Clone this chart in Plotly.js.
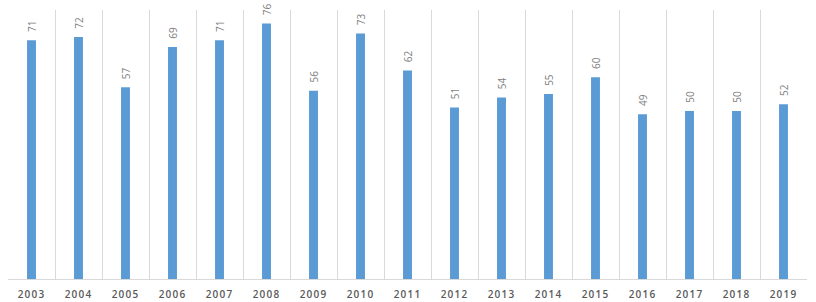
<!DOCTYPE html>
<html><head><meta charset="utf-8">
<script src="https://cdn.plot.ly/plotly-3.0.1.min.js"></script>
<style>html,body{margin:0;padding:0;background:#fff}
.xtick text{letter-spacing:1.2px}</style>
</head><body>
<div id="chart" style="width:816px;height:302px"></div>
<script>
const years = ["2003","2004","2005","2006","2007","2008","2009","2010","2011","2012","2013","2014","2015","2016","2017","2018","2019"];
const values = [71,72,57,69,71,76,56,73,62,51,54,55,60,49,50,50,52];

Plotly.newPlot('chart', [{
  type: 'bar',
  x: years,
  y: values,
  marker: {color: '#5B9BD5', line: {color: '#5B9BD5', width: 0}},
  text: values.map(v => '\u00a0\u00a0' + v),
  textposition: 'outside',
  textangle: -90,
  constraintext: 'none',
  textfont: {family: 'Open Sans, sans-serif', size: 10, color: '#7f7f7f'},
  cliponaxis: false,
  hoverinfo: 'skip'
}], {
  width: 816, height: 302,
  margin: {l: 8, r: 9, t: 10, b: 23},
  paper_bgcolor: '#fff', plot_bgcolor: '#fff',
  bargap: 0.81,
  showlegend: false,
  xaxis: {
    type: 'category',
    tickson: 'boundaries',
    showgrid: true, gridcolor: '#d9d9d9', gridwidth: 1,
    ticks: '', showline: true, linecolor: '#d9d9d9', mirror: false,
    ticklabelstandoff: 6,
    tickfont: {family: 'Open Sans, sans-serif', size: 10, color: '#595959', weight: 600},
    fixedrange: true
  },
  yaxis: {
    range: [0, 80], showgrid: false, zeroline: false, showticklabels: false,
    showline: false, fixedrange: true
  }
}, {displayModeBar: false, staticPlot: true});
</script>
</body></html>
